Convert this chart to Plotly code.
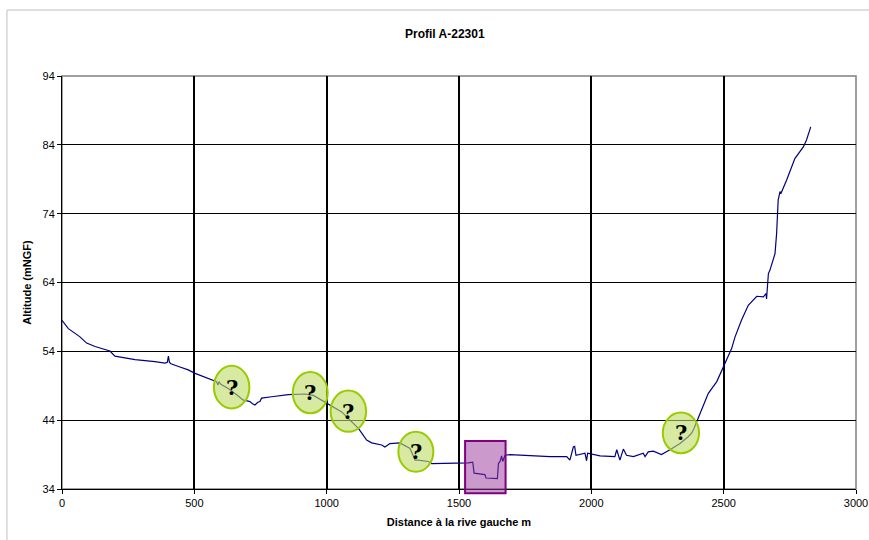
import plotly.graph_objects as go

# --- data ---
distance_m = [0, 24, 68, 93, 125, 181, 200, 276, 351, 389, 398, 402, 406, 412, 440, 477,
              503, 528, 566, 584, 589, 593, 600, 628, 660, 685, 700, 710, 720, 729, 740,
              748, 754, 770, 792, 855, 918, 950, 981, 1000, 1019, 1057, 1088, 1120, 1151,
              1170, 1208, 1220, 1239, 1277, 1315, 1334, 1345, 1384, 1397, 1460, 1535,
              1552, 1557, 1598, 1602, 1645, 1649, 1655, 1661, 1665, 1674, 1693, 1740,
              1781, 1844, 1907, 1919, 1932, 1937, 1942, 1976, 1982, 1986, 2033, 2089,
              2096, 2108, 2121, 2133, 2159, 2196, 2203, 2215, 2234, 2265, 2297, 2335,
              2366, 2379, 2388, 2392, 2395, 2404, 2411, 2429, 2442, 2474, 2499, 2530,
              2543, 2568, 2593, 2625, 2650, 2660, 2662, 2669, 2675, 2694, 2700, 2706,
              2713, 2717, 2738, 2769, 2801, 2813, 2829]
altitude_m = [58.5, 57.3, 56.1, 55.2, 54.7, 54.05, 53.3, 52.8, 52.5, 52.3, 52.4, 53.3, 52.4,
              52.2, 51.8, 51.3, 50.8, 50.4, 49.9, 49.6, 49.1, 49.6, 49.2, 48.6, 47.7, 46.9,
              46.8, 46.7, 46.4, 46.2, 46.6, 46.7, 47.2, 47.3, 47.4, 47.7, 47.8, 47.6, 46.9,
              46.5, 46.0, 45.2, 44.0, 42.8, 41.1, 40.7, 40.4, 40.1, 40.6, 40.7, 39.9, 38.2,
              38.2, 38.0, 37.7, 37.7, 37.8, 37.9, 36.3, 36.1, 35.6, 35.5, 37.7, 38.0, 38.8,
              38.0, 38.9, 39.0, 38.9, 38.9, 38.7, 38.7, 38.2, 40.1, 40.2, 38.9, 39.2, 38.1,
              39.2, 38.8, 38.7, 39.7, 38.2, 39.8, 38.9, 38.7, 39.2, 38.7, 39.4, 39.5, 39.0,
              39.7, 40.6, 41.6, 42.1, 42.8, 43.3, 43.5, 44.3, 45.0, 46.9, 47.9, 49.6, 51.8,
              54.4, 56.1, 58.6, 60.7, 62.0, 61.9, 62.4, 61.6, 65.3, 65.8, 68.2, 71.1, 76.0,
              77.2, 77.0, 78.9, 82.0, 83.7, 84.7, 86.6]

x_ticks = [0, 500, 1000, 1500, 2000, 2500, 3000]
y_ticks = [34, 44, 54, 64, 74, 84, 94]

title_text = "Profil A-22301"
x_title = "Distance à la rive gauche m"
y_title = "Altitude (mNGF)"

# question-mark ellipses (data coordinates: x0, x1, y0, y1)
question_zones = [(574, 708, 45.7, 51.9), (872, 1004, 45.0, 51.0), (1015, 1149, 42.3, 48.3),
                  (1271, 1403, 36.5, 42.3), (2270, 2407, 39.2, 45.1)]
# purple highlighted zone (x range)
purple_zone = (1523, 1676)

fig = go.Figure()
fig.add_trace(go.Scatter(x=distance_m, y=altitude_m, mode="lines",
                         line=dict(color="#000080", width=1.2), showlegend=False,
                         hoverinfo="x+y"))

shapes = []
# outer chart frame
shapes.append(dict(type="rect", xref="paper", yref="paper", x0=-0.0693, x1=1.05,
                   y0=-0.2, y1=1.1598, line=dict(color="#BFBFBF", width=1),
                   fillcolor="rgba(0,0,0,0)", layer="below"))
# plot area border
shapes.append(dict(type="rect", xref="paper", yref="paper", x0=0, x1=1, y0=0, y1=1,
                   line=dict(color="#808080", width=1.5), fillcolor="rgba(0,0,0,0)",
                   layer="below"))
for (x0, x1, y0, y1) in question_zones:
    shapes.append(dict(type="circle", xref="x", yref="y", x0=x0, x1=x1, y0=y0, y1=y1,
                       line=dict(color="#99CC00", width=2),
                       fillcolor="rgba(190,220,100,0.6)", layer="above"))
shapes.append(dict(type="rect", xref="x", yref="paper", x0=purple_zone[0], x1=purple_zone[1],
                   y0=-0.0104, y1=0.1162, line=dict(color="#800080", width=2),
                   fillcolor="rgba(153,51,153,0.5)", layer="above"))

annotations = []
for (x0, x1, y0, y1) in question_zones:
    annotations.append(dict(x=(x0 + x1) / 2, y=(y0 + y1) / 2, xref="x", yref="y",
                            text="<b>?</b>", showarrow=False,
                            font=dict(family="DejaVu Serif", size=21, color="black")))
annotations.append(dict(x=0.482, y=1.102, xref="paper", yref="paper", text="<b>" + title_text + "</b>",
                        showarrow=False, xanchor="center", yanchor="middle",
                        font=dict(family="Liberation Sans, Arial", size=12, color="black")))

fig.update_layout(
    width=869, height=540,
    margin=dict(l=62, r=13, t=76, b=51, autoexpand=False),
    paper_bgcolor="white", plot_bgcolor="white",
    font=dict(family="Liberation Sans, Arial", size=11, color="black"),
    shapes=shapes, annotations=annotations,
    xaxis=dict(range=[0, 3000], tickvals=x_ticks, ticktext=[str(v) for v in x_ticks],
               showgrid=True, gridcolor="black", gridwidth=1.5, zeroline=False,
               showline=True, linecolor="black", linewidth=1, automargin=False,
               ticks="outside", ticklen=4, tickcolor="black",
               tickfont=dict(size=11, color="black"),
               title=dict(text="<b>" + x_title + "</b>", font=dict(size=11), standoff=10)),
    yaxis=dict(range=[34, 94], tickvals=y_ticks, ticktext=[str(v) for v in y_ticks],
               showgrid=True, gridcolor="black", gridwidth=1, zeroline=False,
               showline=True, linecolor="black", linewidth=1, automargin=False,
               ticks="outside", ticklen=4, tickcolor="black",
               tickfont=dict(size=11, color="black"),
               title=dict(text="<b>" + y_title + "</b>", font=dict(size=11), standoff=8)),
)

fig.write_html("out.html", config={"responsive": False, "displayModeBar": False},
               post_script="document.body.style.margin='0';document.body.style.overflow='hidden';")
